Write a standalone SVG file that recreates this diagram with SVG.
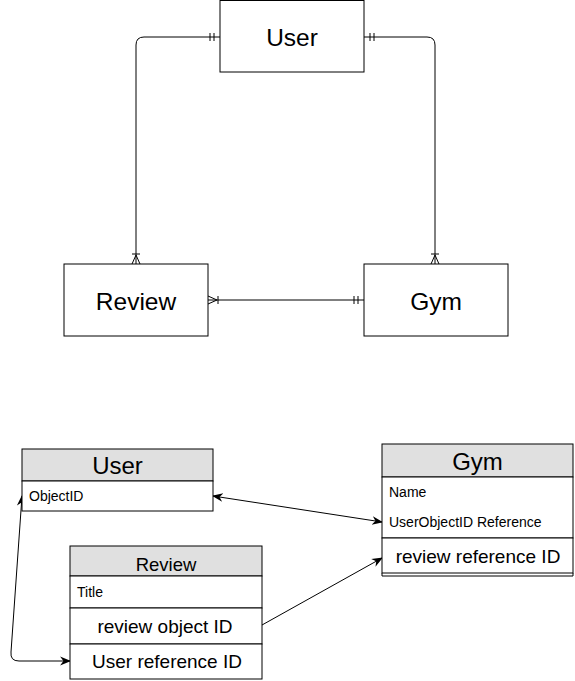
<svg xmlns="http://www.w3.org/2000/svg" width="575" height="681" viewBox="0 0 575 681">
<style>
.box{fill:#fff;stroke:#000;stroke-width:1}
.hdr{fill:#e0e0e0;stroke:#000;stroke-width:1}
.ln{fill:none;stroke:#000;stroke-width:1}
text{font-family:"Liberation Sans",Arial,sans-serif;fill:#000}
.big{font-size:24.5px;text-anchor:middle}
.th{font-size:24px;text-anchor:middle}
.th2{font-size:18.5px;text-anchor:middle}
.sm{font-size:14px}
.md{font-size:19px;text-anchor:middle}
</style>
<defs>
<marker id="arr" viewBox="0 0 10 10" refX="9" refY="5" markerWidth="11" markerHeight="11" orient="auto-start-reverse" markerUnits="userSpaceOnUse">
<path d="M0,1 L10,5 L0,9 L3,5 z" fill="#000"/>
</marker>
</defs>
<rect width="575" height="681" fill="#fff"/>
<g id="connectors">
<path class="ln" d="M220,37 H144 Q136,37 136,45 V264"/>
<path class="ln" d="M210,33 V41 M214,33 V41"/>
<path class="ln" d="M132,254 H140 M132,264 L136,255 L140,264"/>
<path class="ln" d="M364,37 H427 Q435,37 435,45 V264"/>
<path class="ln" d="M370,33 V41 M374,33 V41"/>
<path class="ln" d="M431,254 H439 M431,264 L435,255 L439,264"/>
<path class="ln" d="M208,300 H364"/>
<path class="ln" d="M218,296 V304 M208,296 L217,300 L208,304"/>
<path class="ln" d="M354,296 V304 M358,296 V304"/>
<path class="ln" d="M213,496 L382,522" marker-start="url(#arr)" marker-end="url(#arr)"/>
<path class="ln" d="M262,625 L382,558" marker-end="url(#arr)"/>
<path class="ln" d="M22,496 L11,652 Q10,661 19,661 L70,661" marker-start="url(#arr)" marker-end="url(#arr)"/>
</g>
<g id="er-user">
<rect class="box" x="220" y="0.5" width="144" height="71.5"/>
<text class="big" x="292" y="46">User</text>
</g>
<g id="er-review">
<rect class="box" x="64" y="264" width="144" height="72"/>
<text class="big" x="136" y="310">Review</text>
</g>
<g id="er-gym">
<rect class="box" x="364" y="264" width="144" height="72"/>
<text class="big" x="436" y="310">Gym</text>
</g>
<g id="tbl-user">
<rect class="hdr" x="22" y="449" width="191" height="32"/>
<rect class="box" x="22" y="481" width="191" height="30"/>
<text class="th" x="117.5" y="474">User</text>
<text class="sm" x="29" y="501">ObjectID</text>
</g>
<g id="tbl-review">
<rect class="hdr" x="70" y="546" width="192" height="30"/>
<rect class="box" x="70" y="576" width="192" height="32"/>
<rect class="box" x="70" y="608" width="192" height="36"/>
<rect class="box" x="70" y="644" width="192" height="35"/>
<text class="th2" x="166" y="571">Review</text>
<text class="sm" x="77" y="597">Title</text>
<text class="md" x="165" y="633">review object ID</text>
<text class="md" x="167" y="668">User reference ID</text>
</g>
<g id="tbl-gym">
<rect class="hdr" x="382" y="444" width="191" height="33"/>
<rect class="box" x="382" y="477" width="191" height="61"/>
<rect class="box" x="382" y="538" width="191" height="35"/>
<path class="ln" d="M382,573 V576 H573 V573"/>
<text class="th" x="477.5" y="470">Gym</text>
<text class="sm" x="389" y="497">Name</text>
<text class="sm" x="389" y="527">UserObjectID Reference</text>
<text class="md" x="478" y="563">review reference ID</text>
</g>
</svg>
